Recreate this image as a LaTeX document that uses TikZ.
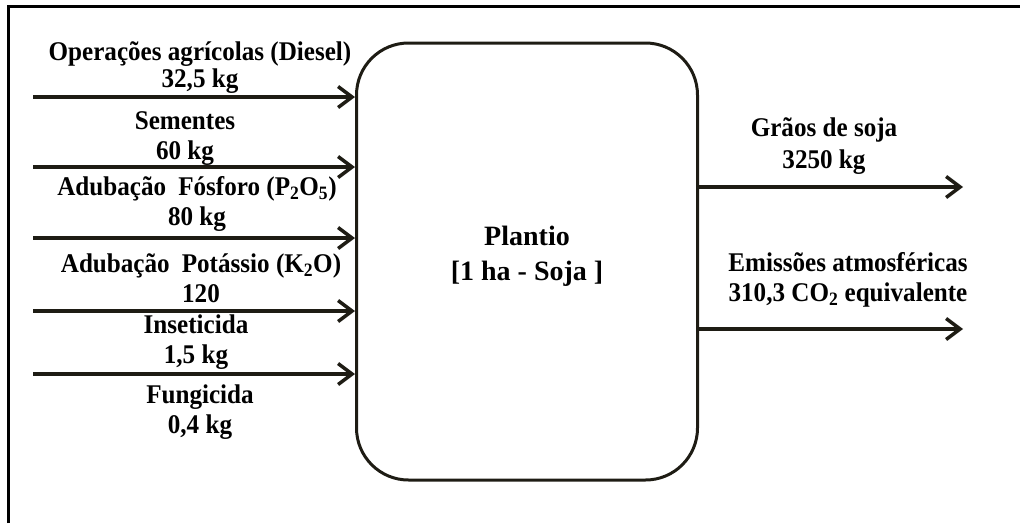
\documentclass[tikz,border=0pt]{standalone}
\usepackage{fontspec}
\setmainfont{Liberation Serif}
\newfontfamily\lblfont[FakeStretch=0.93]{Liberation Serif}
\usetikzlibrary{arrows.meta}
\definecolor{ink}{RGB}{30,28,20}
\newcommand{\widegap}{\hspace{0.45em}}
\begin{document}
\begin{tikzpicture}[x=1pt,y=-1pt,
  lbl/.style={font=\lblfont\fontsize{27}{30}\selectfont\bfseries, align=center, inner sep=0pt, text=black},
  title/.style={font=\fontsize{28}{35}\selectfont\bfseries, align=center, inner sep=0pt},
  flow/.style={draw=ink, line width=3.5pt, -{Straight Barb[length=14pt,width=21pt]}},
  proc/.style={draw=ink, line width=3pt, rounded corners=52pt,
    minimum width=341pt, minimum height=437pt, inner sep=0pt}]
\useasboundingbox (0,0) rectangle (1020,523);

% frame (top and left edges)
\draw[line width=2.8pt] (8.5,523) -- (8.5,6.2) -- (1020,6.2);

% process box
\node[proc] (box) at (527,261.5) {};
\node[title] (plantio) at (527,256.5) {Plantio\\ {[}1 ha - Soja ]};

% input start points
\coordinate (in1) at (33,97);
\coordinate (in2) at (33,167);
\coordinate (in3) at (33,238);
\coordinate (in4) at (33,311);
\coordinate (in5) at (33,374);

\draw[flow] (in1) -- (in1 -| box.west);
\draw[flow] (in2) -- (in2 -| box.west);
\draw[flow] (in3) -- (in3 -| box.west);
\draw[flow] (in4) -- (in4 -| box.west);
\draw[flow] (in5) -- (in5 -| box.west);

% output end points
\coordinate (out1) at (963,187);
\coordinate (out2) at (963,329);
\draw[flow] (out1 -| box.east) -- (out1);
\draw[flow] (out2 -| box.east) -- (out2);

% input labels
\node[lbl] (l1) at (200,67.5) {Operações agrícolas (Diesel)\\[-3pt] 32,5 kg};
\node[lbl] (l2) at (185,139) {Sementes\\ 60 kg};
\node[lbl] (l3) at (197,204) {Adubação\widegap Fósforo (P\textsubscript{2}O\textsubscript{5})\\ 80 kg};
\node[lbl] (l4) at (201,278) {Adubação\widegap Potássio (K\textsubscript{2}O)\\ 120};
\node[lbl] (l5) at (196,342) {Inseticida\\ 1,5 kg};
\node[lbl] (l6) at (200,412) {Fungicida\\ 0,4 kg};

% output labels
\node[lbl] (r1) at (824,146) {Grãos de soja\\[2pt] 3250 kg};
\node[lbl] (r2) at (848,280) {Emissões atmosféricas\\ 310,3 CO\textsubscript{2} equivalente};
\end{tikzpicture}
\end{document}
